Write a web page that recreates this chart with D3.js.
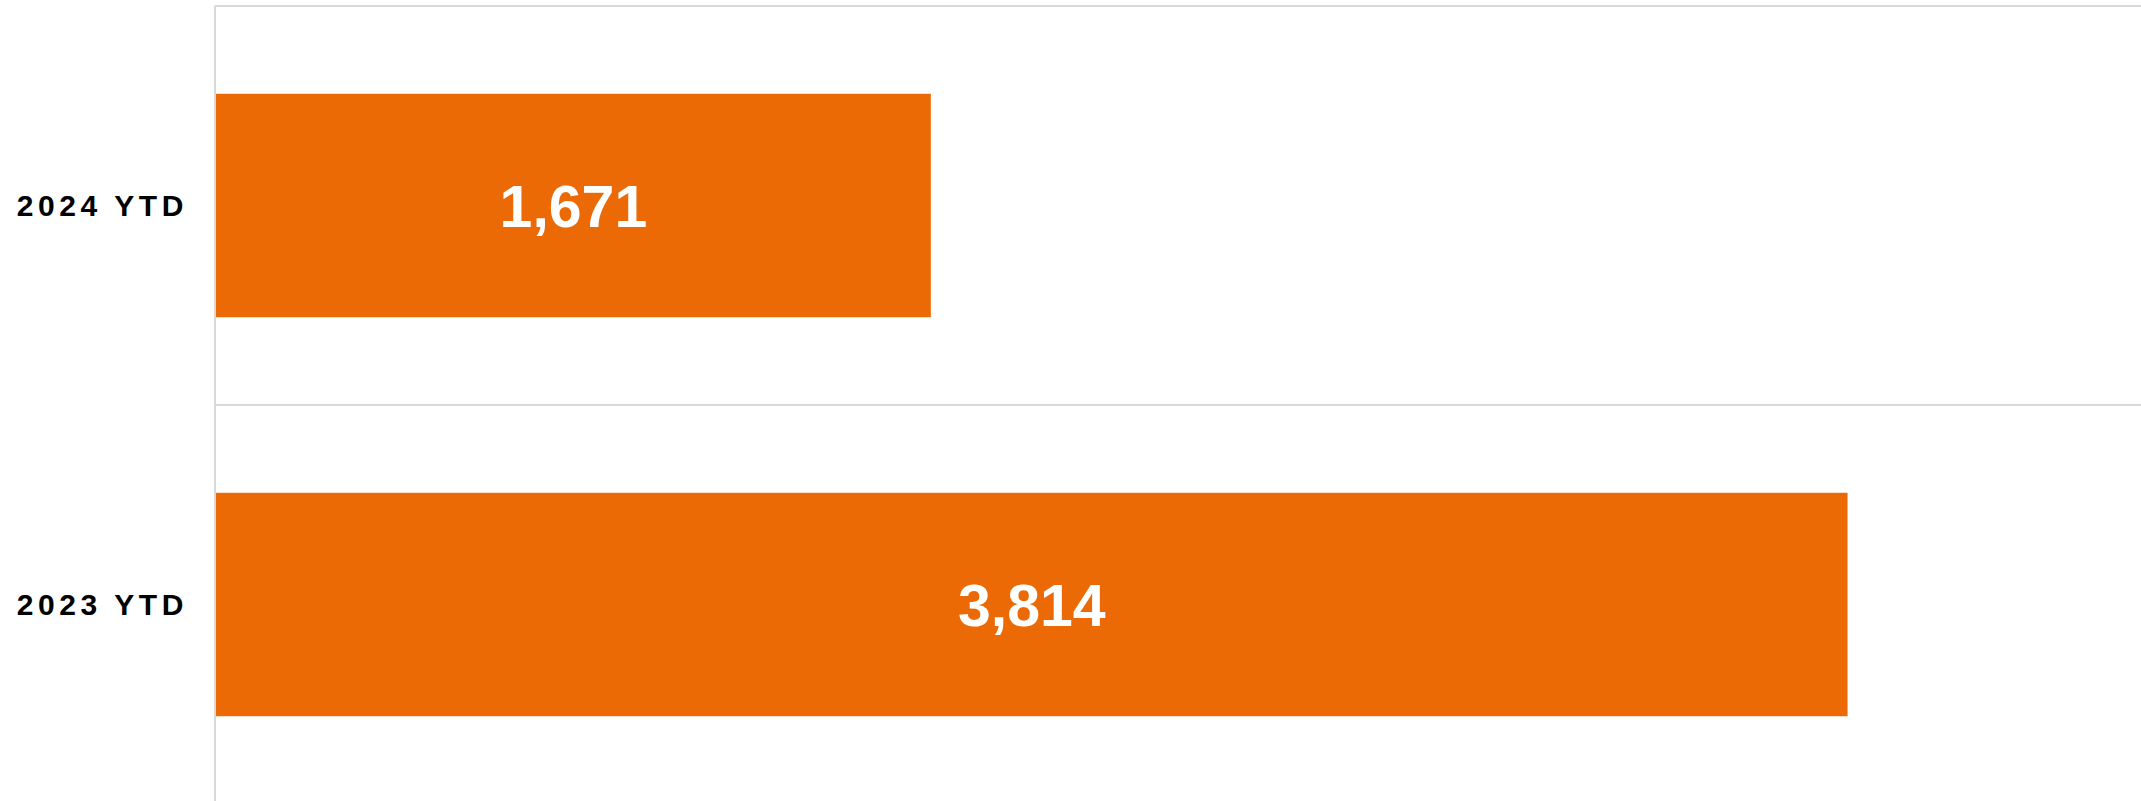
<!DOCTYPE html>
<html lang="en">
<head>
  <meta charset="UTF-8">
  <title>YTD</title>
  <script src="https://d3js.org/d3.v7.min.js"></script>
  <style>
    html, body { margin: 0; padding: 0; background: #fff; }
    svg { display: block; }
  </style>
</head>
<body>

  <script>
    ((window, document) => {
      "use strict";

      /**
       * -----------------------------------------------------------------------
       *  Data
       * -----------------------------------------------------------------------
       */

      const categories = ["2024 YTD", "2023 YTD"];
      const values = [1671, 3814];
      const xMax = 4500;


      /**
       * -----------------------------------------------------------------------
       *  Render
       * -----------------------------------------------------------------------
       */

      const width = 2141, height = 801;
      const left = 216, top = 6, bottom = 804;
      const orange = "#eb6a06";
      const grid = "#d9d9d9";
      const font = "Arial, 'Liberation Sans', sans-serif";

      let svg = d3.select("body").append("svg")
        .attr("width", width)
        .attr("height", height);

      let x = d3.scaleLinear().domain([0, xMax]).range([left, width]);
      let y = d3.scaleBand()
        .domain(categories)
        .range([top, bottom])
        .paddingInner(0.44)
        .paddingOuter(0.22);

      // category boundaries (horizontal gridlines)
      let step = y.step();
      let bounds = d3.range(categories.length + 1).map(i => top + i * step);
      svg.append("g").selectAll("line")
        .data(bounds)
        .enter().append("line")
          .attr("x1", left - 1).attr("x2", width)
          .attr("y1", d => d).attr("y2", d => d)
          .attr("stroke", grid)
          .attr("stroke-width", 2);

      // vertical axis line
      svg.append("line")
        .attr("x1", left - 1).attr("x2", left - 1)
        .attr("y1", top).attr("y2", height)
        .attr("stroke", grid)
        .attr("stroke-width", 2);

      // bars
      svg.append("g").selectAll("rect")
        .data(values)
        .enter().append("rect")
          .attr("x", x(0))
          .attr("y", (d, i) => y(categories[i]))
          .attr("width", d => x(d) - x(0))
          .attr("height", y.bandwidth())
          .attr("fill", orange);

      // value labels
      svg.append("g").selectAll("text")
        .data(values)
        .enter().append("text")
          .attr("x", d => (x(0) + x(d)) / 2)
          .attr("y", (d, i) => y(categories[i]) + y.bandwidth() / 2)
          .attr("dy", "0.36em")
          .attr("text-anchor", "middle")
          .attr("fill", "#fff")
          .attr("font-family", font)
          .attr("font-weight", "bold")
          .attr("font-size", 59)
          .text(d => d3.format(",")(d));

      // category labels
      svg.append("g").selectAll("text")
        .data(categories)
        .enter().append("text")
          .attr("x", 188)
          .attr("y", d => y(d) + y.bandwidth() / 2)
          .attr("dy", "0.36em")
          .attr("text-anchor", "end")
          .attr("fill", "#000")
          .attr("font-family", font)
          .attr("font-weight", "bold")
          .attr("font-size", 30)
          .attr("letter-spacing", "4.6px")
          .text(d => d);

    })(window, document);
  </script>

</body>
</html>
